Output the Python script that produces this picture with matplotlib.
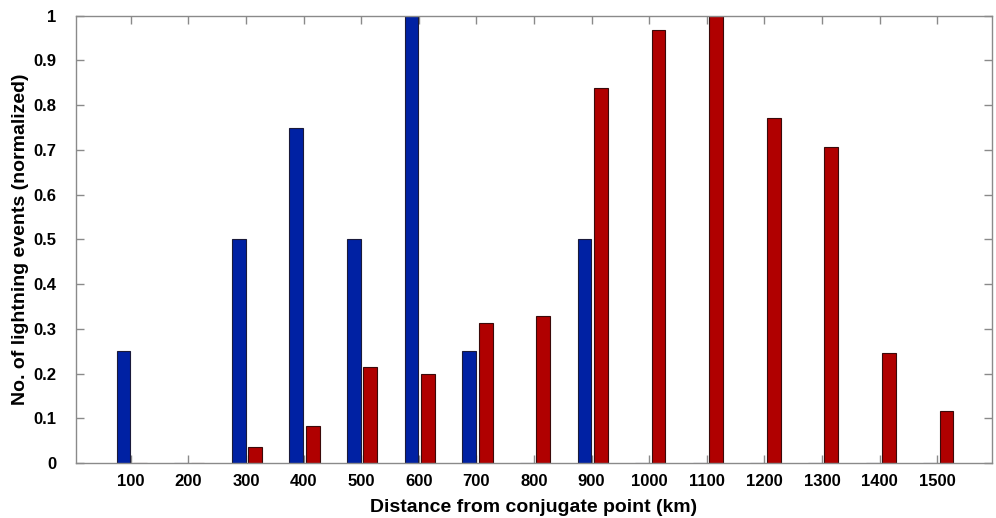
import matplotlib
matplotlib.use("Agg")
import matplotlib.pyplot as plt
import numpy as np

categories = [100, 200, 300, 400, 500, 600, 700, 800, 900, 1000, 1100, 1200, 1300, 1400, 1500]
blue_values = [0.25, 0, 0.50, 0.75, 0.50, 1.00, 0.25, 0, 0.50, 0, 0, 0, 0, 0, 0]
red_values = [0, 0, 0.035, 0.083, 0.215, 0.198, 0.312, 0.329, 0.838, 0.968, 1.00, 0.771, 0.706, 0.247, 0.117]
y_ticks = [0, 0.1, 0.2, 0.3, 0.4, 0.5, 0.6, 0.7, 0.8, 0.9, 1]
y_tick_labels = ["0", "0.1", "0.2", "0.3", "0.4", "0.5", "0.6", "0.7", "0.8", "0.9", "1"]

plt.rcParams['font.family'] = ['Liberation Sans', 'DejaVu Sans']

fig = plt.figure(figsize=(9.96, 5.18), dpi=100)
ax = fig.add_axes([0.0763, 0.1062, 0.9197, 0.8635])

x = np.arange(len(categories))
w = 0.24
ax.bar(x - 0.125, blue_values, width=w, color='#0021a3', edgecolor='#1a1a3a', linewidth=0.8, zorder=2)
ax.bar(x + 0.16, red_values, width=w, color='#b00000', edgecolor='#3a0a0a', linewidth=0.8, zorder=2)

ax.set_xlim(-0.95, len(categories) - 0.05)
ax.set_ylim(0, 1)
ax.set_xticks(x)
ax.set_xticklabels([str(c) for c in categories], fontsize=12, fontweight='bold')
ax.set_yticks(y_ticks)
ax.set_yticklabels(y_tick_labels, fontsize=12, fontweight='bold')

for s in ax.spines.values():
    s.set_color('#8a8a8a')
    s.set_linewidth(1.0)
ax.tick_params(direction='in', length=6, width=1.0, color='#8a8a8a', top=True, right=True)
ax.tick_params(axis='x', pad=8)
ax.tick_params(axis='y', pad=14)

ax.set_xlabel('Distance from conjugate point (km)', fontsize=14, fontweight='bold', labelpad=7)
ax.set_ylabel('No. of lightning events (normalized)', fontsize=14, fontweight='bold', labelpad=3)

fig.savefig('out.png', dpi=100)
